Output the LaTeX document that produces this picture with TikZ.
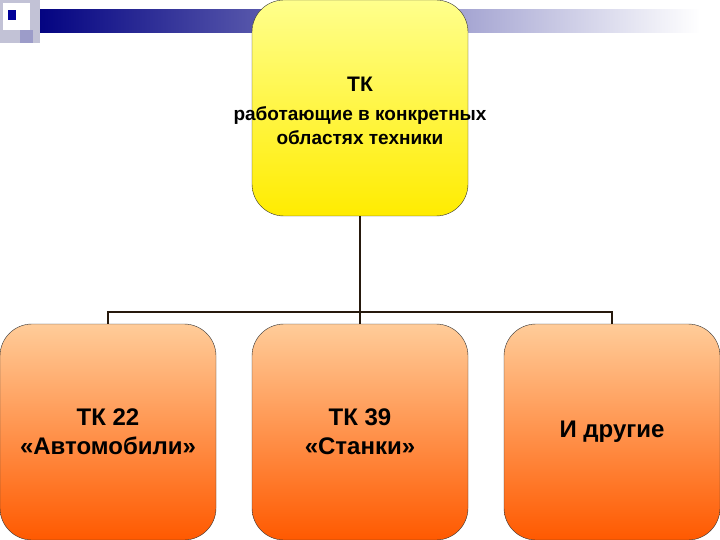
\documentclass[tikz,border=0pt]{standalone}
\usepackage{fontspec}
\setmainfont{Liberation Sans}
\begin{document}
\begin{tikzpicture}[x=1pt,y=-1pt,
  ybox/.style={draw=black!80,rounded corners=32pt,top color=yellow!45!white,bottom color=yellow!85!orange,minimum width=216pt,minimum height=216pt,inner sep=0pt,align=center},
  obox/.style={draw=black!80,rounded corners=32pt,top color=orange!40!white,bottom color=orange!70!red,minimum width=216pt,minimum height=216pt,inner sep=0pt,align=center,font=\bfseries\fontsize{24}{29}\selectfont},
  conn/.style={draw=black!80!brown,line width=1.2pt}]
\useasboundingbox (0,0) rectangle (720,540);
\fill[white] (0,0) rectangle (720,540);
\shade[left color=blue!50!black,right color=white] (30,10) rectangle (700,33);
\fill[blue!20!gray!40] (0,0) rectangle (40,43);
\fill[white] (3,3) rectangle (30,30);
\fill[blue!30!gray!60] (20,30) rectangle (33,43);
\fill[blue!60!black] (8,10) rectangle (16,20);
\node[ybox] (top) at (360,108) {};
\node[font=\bfseries\fontsize{21}{25}\selectfont] (t1) at (360,84) {ТК};
\node[font=\bfseries\fontsize{19}{24}\selectfont,align=center] (t2) at (360,126) {работающие в конкретных\\областях техники};
\node[obox] (a) at (108,432) {ТК 22\\«Автомобили»};
\node[obox] (b) at (360,432) {ТК 39\\«Станки»};
\node[obox] (c) at (612,432) {И другие};
\coordinate (j) at (360,312);
\draw[conn] (top.south) -- (j);
\draw[conn] (a.north) |- (j) -| (c.north);
\draw[conn] (j) -- (b.north);
\end{tikzpicture}
\end{document}
